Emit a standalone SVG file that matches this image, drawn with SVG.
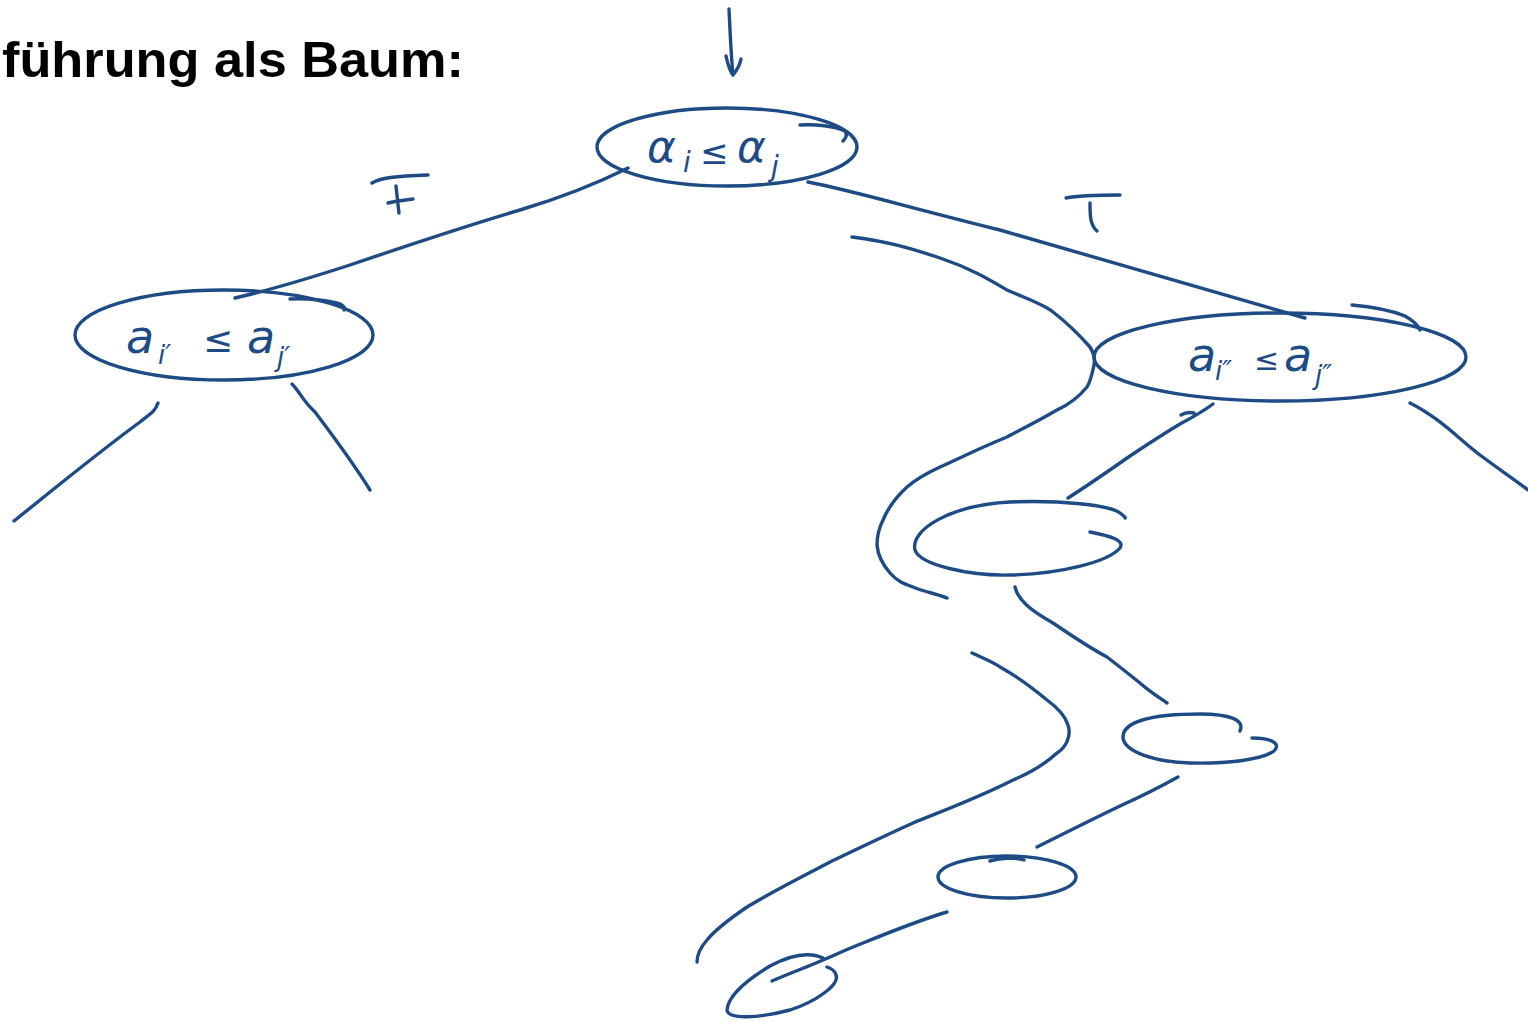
<svg xmlns="http://www.w3.org/2000/svg" width="1528" height="1022" viewBox="0 0 1528 1022">
<style>
.s{fill:none;stroke:#1f4b85;stroke-width:3.4;stroke-linecap:round;stroke-linejoin:round}
.h{fill:#1f4b85;font-family:"DejaVu Sans",sans-serif;font-style:italic}
.t{fill:#000;font-family:"Liberation Sans",Arial,sans-serif;font-weight:bold}
</style>
<rect width="1528" height="1022" fill="#fff"/>
<text class="t" x="2" y="77" font-size="50" textLength="462" lengthAdjust="spacingAndGlyphs">führung als Baum:</text>

<g id="connectors">
  <path class="s" d="M729,9 C730,30 731,55 733,75 M726,56 C728,65 730,72 733,75 C737,70 740,65 741,59"/>
  <path class="s" d="M628,168 C600,182 560,198 520,210 C460,228 400,248 350,265 C310,278 270,290 235,298"/>
  <path class="s" d="M808,182 C850,190 900,205 1000,230 C1100,258 1200,288 1305,318"/>
  <path class="s" d="M158,403 C155,412 150,414 140,422 C110,444 80,468 55,488 C40,500 25,512 14,521"/>
  <path class="s" d="M292,384 C300,392 302,400 315,412 C330,432 350,458 370,490"/>
  <path class="s" d="M1410,403 C1440,418 1460,440 1480,455 C1500,470 1515,480 1528,490"/>
  <path class="s" d="M852,237 C890,242 910,248 940,258 C970,268 990,280 1007,290 C1030,300 1045,305 1053,312 C1070,325 1082,338 1090,347 C1095,355 1095,360 1094,365 C1092,375 1090,382 1087,387 C1078,398 1068,405 1057,410 C1040,420 1020,430 1007,437 C980,448 960,458 940,467 C925,474 915,480 907,487 C895,498 888,508 883,520 C878,530 877,537 877,545 C878,557 883,565 890,573 C898,582 905,584 913,587 C925,592 937,594 947,598"/>
  <path class="s" d="M1213,404 C1205,410 1195,416 1180,424 C1160,436 1145,446 1130,456 C1110,470 1090,484 1068,498 M1181,415 C1186,412 1190,412 1194,413"/>
  <path class="s" d="M1015,587 C1018,600 1030,610 1053,623 C1075,638 1090,648 1107,657 C1120,667 1130,675 1140,683 C1150,692 1160,698 1167,703"/>
  <path class="s" d="M972,653 C985,659 995,663 1000,667 C1020,678 1035,690 1047,700 C1058,708 1065,715 1068,725 C1072,737 1065,748 1057,753 C1045,764 1030,773 1013,780 C980,797 945,810 913,823 C880,838 855,850 830,862 C800,878 770,893 747,907 C728,920 715,930 707,940 C700,948 697,955 697,962"/>
  <path class="s" d="M1178,777 C1160,787 1140,797 1120,806 C1095,818 1065,833 1037,847"/>
  <path class="s" d="M947,912 C920,920 890,932 863,943 C845,950 835,955 823,960 C805,968 790,973 772,981"/>
</g>

<g id="node-root">
  <ellipse class="s" cx="727" cy="147" rx="130" ry="39"/>
  <path class="s" d="M800,125 C815,124 835,126 845,131 C848,135 846,138 843,141"/>
  <text class="h" x="647" y="162" font-size="44">α</text>
  <text class="h" x="683" y="172" font-size="28">i</text>
  <text class="h" x="700" y="164" font-size="34">≤</text>
  <text class="h" x="737" y="162" font-size="44">α</text>
  <text class="h" x="771" y="176" font-size="28">j</text>
</g>

<g id="node-left">
  <ellipse class="s" cx="224" cy="335" rx="149" ry="45"/>
  <path class="s" d="M290,299 C310,298 330,301 340,304 C344,306 345,308 344,310"/>
  <text class="h" x="126" y="353" font-size="46">a</text>
  <text class="h" x="158" y="364" font-size="26">i′</text>
  <text class="h" x="203" y="352" font-size="36">≤</text>
  <text class="h" x="247" y="353" font-size="46">a</text>
  <text class="h" x="277" y="366" font-size="26">j′</text>
</g>

<g id="node-right">
  <ellipse class="s" cx="1280" cy="357" rx="186" ry="44"/>
  <path class="s" d="M1352,305 C1375,307 1395,312 1405,316 C1412,320 1418,325 1420,330"/>
  <text class="h" x="1188" y="371" font-size="46">a</text>
  <text class="h" x="1215" y="380" font-size="26">i″</text>
  <text class="h" x="1254" y="370" font-size="30">≤</text>
  <text class="h" x="1284" y="371" font-size="46">a</text>
  <text class="h" x="1315" y="384" font-size="26">j″</text>
</g>

<g id="node-m1">
  <path class="s" d="M1090,532 C1110,536 1125,540 1120,548 C1108,562 1060,574 1010,575 C970,576 920,565 915,550 C910,530 950,505 1010,502 C1060,500 1110,505 1120,513 C1124,516 1126,518 1125,518"/>
</g>

<g id="node-m2">
  <path class="s" d="M1252,738 C1270,738 1282,743 1274,751 C1262,760 1225,764 1190,763 C1155,762 1125,752 1123,738 C1122,722 1150,714 1200,714 C1230,714 1245,720 1240,731"/>
</g>

<g id="node-m3">
  <ellipse class="s" cx="1007" cy="877" rx="69" ry="21"/>
  <path class="s" d="M990,861 C1000,858 1015,857 1024,860"/>
</g>

<g id="node-m4">
  <path class="s" d="M823,958 C805,950 785,958 770,966 C750,978 728,995 727,1010 C728,1020 760,1018 790,1010 C815,1002 840,985 836,975 C835,970 830,968 827,967"/>
</g>

<g id="labels">
  <path class="s" d="M372,183 C380,178 395,176 428,175 M396,186 C397,195 398,205 399,213 M388,203 C395,201 405,200 413,199"/>
  <path class="s" d="M1066,198 C1080,195 1100,195 1120,195 M1090,203 C1090,215 1090,225 1097,231"/>
</g>
</svg>
